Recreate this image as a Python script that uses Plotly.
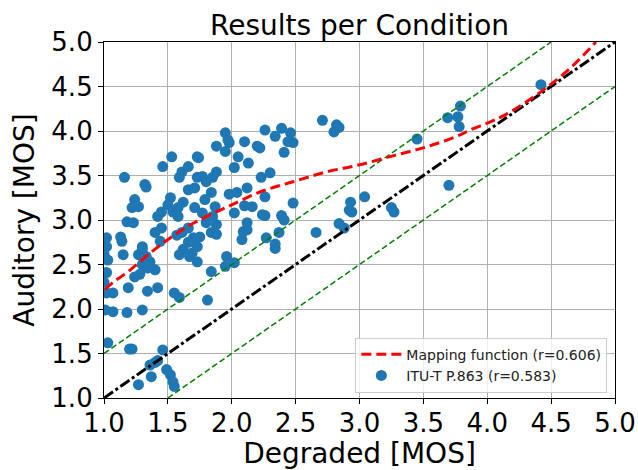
import plotly.graph_objects as go

# Scatter data: (Degraded MOS, Auditory MOS) per condition
degraded = [
    4.42, 3.79, 3.77, 3.69, 3.78, 3.70, 3.45, 2.71, 2.82, 2.80, 2.84, 3.25, 3.27, 2.93, 3.04, 2.92, 2.94, 2.84, 2.88, 2.66,
    2.26, 2.39, 2.34, 2.46, 2.44, 2.48, 2.41, 2.22, 2.30, 2.23, 2.26, 2.48, 2.26, 2.39, 2.41, 2.37, 2.27, 2.34, 2.34, 2.20,
    1.95, 1.97, 1.98, 1.88, 1.95, 2.10, 2.05, 2.13, 2.02, 1.73, 1.88, 1.85, 1.77, 1.80, 2.12, 2.04, 2.10, 2.16, 2.02, 2.24,
    2.12, 2.09, 2.08, 2.12, 1.84, 1.79, 1.87, 1.77, 1.85, 1.80, 1.88, 1.84, 1.75, 1.88, 1.73, 1.96, 1.98, 1.71, 1.71, 1.81,
    1.84, 1.95, 2.02, 1.73, 1.69,
    1.53, 1.46, 1.16, 1.32, 1.33, 1.74, 1.66, 1.61, 1.59, 1.66, 1.73, 1.24, 1.22, 1.27, 1.52, 1.18, 1.23, 1.45, 1.42, 1.54,
    1.62, 1.58, 1.40, 1.45, 1.02, 1.13, 1.14, 1.30, 1.15, 1.61, 1.66, 1.70, 1.62, 1.59, 1.67, 1.57, 1.50, 1.58, 1.44, 1.66,
    1.03, 1.20, 1.22, 1.46, 1.36, 1.40, 1.42, 1.37, 1.27, 1.49, 1.52, 1.54, 1.55, 1.07, 1.18, 1.30, 1.01, 1.02, 1.07, 1.34,
    1.42, 1.55, 1.59, 1.19, 1.02, 1.00, 1.24, 1.28, 1.34, 1.40, 1.30, 1.36, 1.33, 1.00, 1.27, 1.02, 1.30, 1.03,
]
auditory = [
    4.52, 4.28, 4.16, 4.15, 4.05, 3.39, 3.91, 4.12, 4.07, 3.99, 4.04, 3.14, 3.09, 3.20, 3.26, 3.11, 3.09, 2.96, 2.91, 2.86,
    4.01, 4.03, 3.94, 3.98, 3.88, 3.87, 3.76, 3.81, 3.53, 3.48, 3.26, 3.19, 3.05, 3.05, 3.00, 2.86, 2.80, 2.73, 2.68, 3.83,
    3.98, 3.90, 3.87, 3.83, 3.77, 3.88, 3.71, 3.64, 3.59, 3.71, 3.54, 3.48, 3.49, 3.43, 3.36, 3.31, 3.16, 3.15, 3.08, 3.06,
    2.97, 2.87, 2.78, 2.89, 3.31, 3.23, 3.15, 3.08, 3.04, 2.97, 2.95, 2.86, 2.81, 2.84, 2.70, 2.59, 3.29, 3.36, 3.14, 2.10,
    2.42, 2.48, 2.52, 2.53, 2.63,
    3.71, 3.60, 3.48, 3.40, 3.37, 3.70, 3.60, 3.54, 3.48, 3.34, 3.48, 3.23, 3.14, 3.15, 3.25, 2.98, 2.97, 3.09, 3.04, 3.09,
    3.20, 3.14, 2.86, 2.91, 2.80, 2.81, 2.76, 2.70, 2.61, 2.86, 2.91, 2.80, 2.67, 2.61, 2.59, 2.83, 3.17, 3.04, 2.76, 2.75,
    1.62, 1.55, 1.55, 1.54, 1.37, 1.40, 1.42, 1.24, 1.15, 1.32, 1.26, 1.18, 1.13, 1.97, 1.96, 1.99, 1.99, 2.18, 2.18, 2.20,
    2.24, 2.18, 2.13, 2.24, 2.41, 2.30, 2.36, 2.39, 2.46, 2.44, 2.50, 2.53, 2.59, 2.62, 2.61, 2.70, 2.67, 2.55,
]

# Mapping function curve
map_x = [1.01, 1.07, 1.18, 1.38, 1.55, 1.72, 1.97, 2.23, 2.48, 2.74, 3.00, 3.26, 3.52, 3.76, 3.88, 4.02, 4.15, 4.41, 4.66, 4.85]
map_y = [2.22, 2.30, 2.41, 2.65, 2.83, 2.98, 3.15, 3.32, 3.43, 3.54, 3.62, 3.72, 3.82, 3.94, 4.02, 4.10, 4.19, 4.43, 4.72, 5.00]

# Reference lines
ident_x = [1.0, 5.0]
ident_y = [1.0, 5.0]
upper_x = [1.0, 4.5]
upper_y = [1.5, 5.0]
lower_x = [1.5, 5.0]
lower_y = [1.0, 4.5]

tick_vals = [1.0, 1.5, 2.0, 2.5, 3.0, 3.5, 4.0, 4.5, 5.0]
tick_text = ["1.0", "1.5", "2.0", "2.5", "3.0", "3.5", "4.0", "4.5", "5.0"]

FONT = "DejaVu Sans"

fig = go.Figure()
fig.add_trace(go.Scatter(
    x=degraded, y=auditory, mode="markers",
    marker=dict(color="#1f77b4", size=11, line=dict(width=0)),
    name="ITU-T P.863 (r=0.583)", legendrank=2,
))
fig.add_trace(go.Scatter(
    x=upper_x, y=upper_y, mode="lines",
    line=dict(color="green", width=1.5, dash="6px,3px"), showlegend=False,
))
fig.add_trace(go.Scatter(
    x=lower_x, y=lower_y, mode="lines",
    line=dict(color="green", width=1.5, dash="6px,3px"), showlegend=False,
))
fig.add_trace(go.Scatter(
    x=ident_x, y=ident_y, mode="lines",
    line=dict(color="black", width=3, dash="11px,3px,3px,3px"), showlegend=False,
))
fig.add_trace(go.Scatter(
    x=map_x, y=map_y, mode="lines", line_shape="spline",
    line=dict(color="red", width=3, dash="10px,5px"),
    name="Mapping function (r=0.606)", legendrank=1,
))

axis_common = dict(
    range=[1.0, 5.0], tickvals=tick_vals, ticktext=tick_text,
    showgrid=True, gridcolor="#b0b0b0", gridwidth=1,
    showline=True, linecolor="black", linewidth=1.2, mirror=True,
    ticks="outside", ticklen=5, tickcolor="black",
    tickfont=dict(family=FONT, size=26, color="black"),
    zeroline=False, automargin=False,
)

fig.update_layout(
    width=638, height=470,
    margin=dict(l=104, r=23, t=42, b=72),
    paper_bgcolor="white", plot_bgcolor="white",
    title=dict(text="Results per Condition", x=0.5, xanchor="center", xref="paper",
               y=0.947, yanchor="middle", yref="container",
               font=dict(family=FONT, size=28, color="black")),
    xaxis=dict(axis_common, ticklabelstandoff=-3,
               title=dict(text="Degraded [MOS]", standoff=0,
                          font=dict(family=FONT, size=28, color="black"))),
    yaxis=dict(axis_common,
               title=dict(text="Auditory [MOS]", standoff=8,
                          font=dict(family=FONT, size=28, color="black"))),
    legend=dict(x=0.985, y=0.015, xanchor="right", yanchor="bottom",
                bgcolor="rgba(255,255,255,0.8)", bordercolor="#cccccc", borderwidth=1,
                font=dict(family=FONT, size=14, color="#222222"),
                tracegroupgap=0, itemwidth=40),
    showlegend=True,
)

fig.write_html("out.html",
               config={"displayModeBar": False},
               post_script="document.body.style.margin='0';document.body.style.padding='0';")
